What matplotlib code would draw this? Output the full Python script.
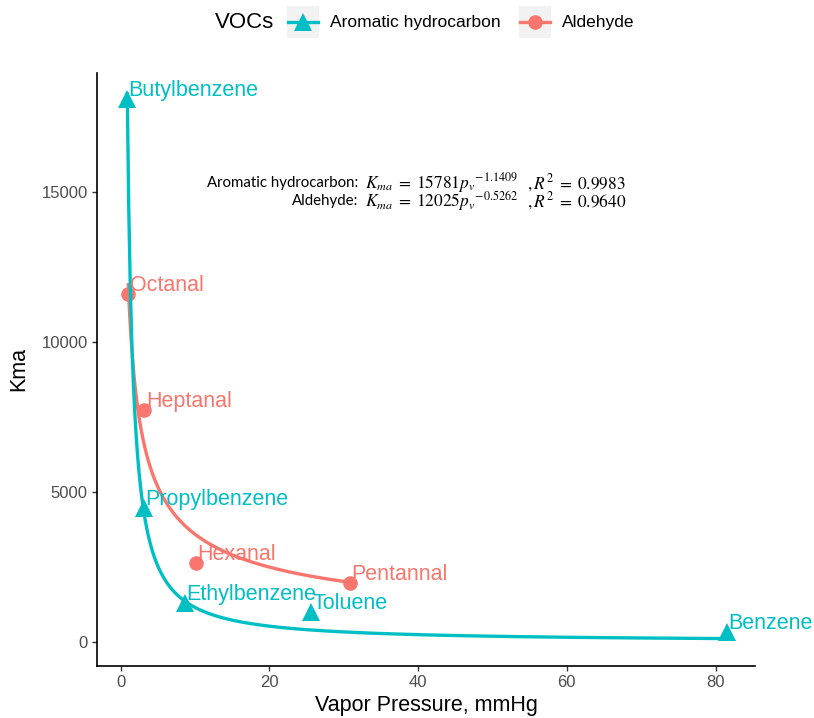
import numpy as np
import matplotlib
matplotlib.use("Agg")
import matplotlib.pyplot as plt
from matplotlib.lines import Line2D
from matplotlib.patches import Rectangle

plt.rcParams["font.family"] = ["Liberation Sans", "DejaVu Sans"]
plt.rcParams["mathtext.fontset"] = "stix"

# data
arom_names = ["Butylbenzene", "Propylbenzene", "Ethylbenzene", "Toluene", "Benzene"]
arom_vp = [0.88, 3.13, 8.65, 25.6, 81.56]
arom_kma = [18100, 4460, 1290, 1000, 320]

ald_names = ["Octanal", "Heptanal", "Hexanal", "Pentannal"]
ald_vp = [1.02, 3.18, 10.1, 30.86]
ald_kma = [11600, 7720, 2630, 1970]

# power fits shown on the chart
arom_a, arom_b, arom_r2 = 15781, -1.1409, 0.9983
ald_a, ald_b, ald_r2 = 12025, -0.5262, 0.9640

teal = "#00BFC4"
salmon = "#F8766D"

W, H = 814, 718
fig = plt.figure(figsize=(W / 100, H / 100), dpi=100)
ax = fig.add_axes([97 / W, 1 - 665.7 / H, 658 / W, (665.7 - 72.7) / H])


def fx(px):
    return px / W


def fy(py):
    return 1 - py / H


# points
ax.plot(arom_vp, arom_kma, "^", color=teal, ms=12.5, mew=0, zorder=2)
ax.plot(ald_vp, ald_kma, "o", color=salmon, ms=10.5, mew=0, zorder=2)

# fitted curves
xa = np.linspace(min(arom_vp), max(arom_vp), 400)
xb = np.linspace(min(ald_vp), max(ald_vp), 400)
ax.plot(xb, ald_a * xb ** ald_b, color=salmon, lw=2.4, zorder=3)
ax.plot(xa, arom_a * xa ** arom_b, color=teal, lw=2.4, zorder=3)

# point labels
for n, x, y in zip(arom_names, arom_vp, arom_kma):
    ax.annotate(n, (x, y), xytext=(1.0, 2.0), textcoords="offset points",
                ha="left", va="baseline", color=teal, fontsize=15.5, zorder=4)
for n, x, y in zip(ald_names, ald_vp, ald_kma):
    ax.annotate(n, (x, y), xytext=(1.0, 2.0), textcoords="offset points",
                ha="left", va="baseline", color=salmon, fontsize=15.5, zorder=4)

# fit equations: label | equation | R^2, in three aligned columns
eqs = [("Aromatic hydrocarbon:", arom_a, arom_b, arom_r2, 183),
       ("Aldehyde:", ald_a, ald_b, ald_r2, 201)]
for lab, a, b, r2, py in eqs:
    fig.text(fx(358), fy(py), lab, ha="right", va="center", fontsize=10.8,
             family="Lato")
    fig.text(fx(365), fy(py), r"$K_{ma}\;=\;%d{p_v}^{%.4f}$" % (a, b),
             ha="left", va="center", fontsize=12.5)
    fig.text(fx(527), fy(py), r"$,R^2\;=\;%.4f$" % r2,
             ha="left", va="center", fontsize=12.5)

ax.set_xlim(-3.19, 85.3)
ax.set_ylim(-800, 18967)
ax.set_xticks([0, 20, 40, 60, 80])
ax.set_yticks([0, 5000, 10000, 15000])
ax.spines["top"].set_visible(False)
ax.spines["right"].set_visible(False)
for s in ["left", "bottom"]:
    ax.spines[s].set_linewidth(1.2)
ax.tick_params(length=3.6, width=1, color="#333333", labelcolor="#4D4D4D",
               labelsize=12, pad=3)
ax.set_xlabel("Vapor Pressure, mmHg", fontsize=15.5, labelpad=4)
ax.set_ylabel("Kma", fontsize=15.5, labelpad=9)

# legend at the top, drawn by hand like ggplot's horizontal guide
fig.text(fx(215), fy(22), "VOCs", ha="left", va="center", fontsize=16)
keys = [("Aromatic hydrocarbon", teal, "^", 12.5, 287),
        ("Aldehyde", salmon, "o", 10.5, 519)]
for lab, col, mk, ms, x0 in keys:
    fig.add_artist(Rectangle((fx(x0), fy(38)), 32 / W, 32 / H,
                             transform=fig.transFigure, facecolor="#F2F2F2",
                             edgecolor="none"))
    fig.add_artist(Line2D([fx(x0 + 1), fx(x0 + 31)], [fy(22), fy(22)],
                          transform=fig.transFigure, color=col, lw=2.4))
    fig.add_artist(Line2D([fx(x0 + 16)], [fy(22)], transform=fig.transFigure,
                          color=col, marker=mk, ms=ms, mew=0))
    fig.text(fx(x0 + 43), fy(22), lab, ha="left", va="center", fontsize=12.5)

fig.savefig("out.png", dpi=100)
